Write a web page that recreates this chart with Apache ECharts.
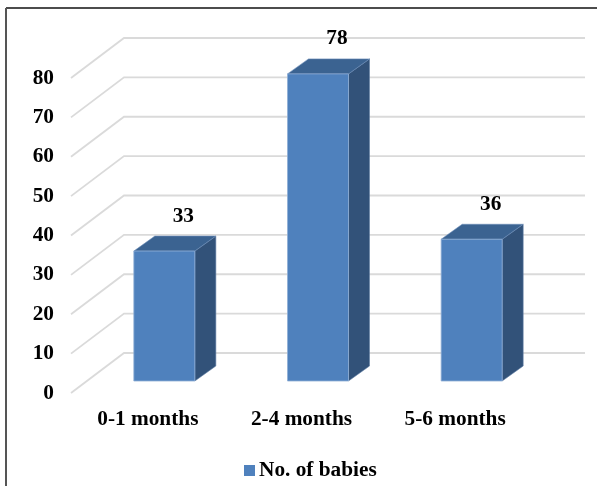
<!DOCTYPE html>
<html><head><meta charset="utf-8">
<style>html,body{margin:0;padding:0;background:#fff}#c{width:597px;height:486px}</style>
<script src="https://cdn.jsdelivr.net/npm/echarts@6/dist/echarts.min.js"></script>
</head><body><div id="c"></div>
<script>
const categories = ['0-1 months', '2-4 months', '5-6 months'];
const babies = [33, 78, 36];
const yTicks = [0, 10, 20, 30, 40, 50, 60, 70, 80];
const seriesName = 'No. of babies';

const FONT = '"Liberation Serif", serif';
const WALL = [53, -40];      // depth of the chart box
const BAR_SHIFT = [16.5, -12]; // where bars stand on the floor
const BAR_DEPTH = [21, -15];
const BAR_W = 61;

const chart = echarts.init(document.getElementById('c'), null, {renderer: 'canvas'});
chart.setOption({
  animation: false,
  backgroundColor: '#fff',
  graphic: [
    {type: 'line', silent: true, z: 0, shape: {x1: 6, y1: 8, x2: 597, y2: 8}, style: {stroke: '#111', lineWidth: 1.5}},
    {type: 'line', silent: true, z: 0, shape: {x1: 6, y1: 8, x2: 6, y2: 486}, style: {stroke: '#555', lineWidth: 2}}
  ],
  legend: {
    data: [seriesName], left: 239, top: 455, icon: 'rect', itemWidth: 11, itemHeight: 11, itemGap: 4,
    selectedMode: false,
    textStyle: {fontFamily: FONT, fontWeight: 'bold', fontSize: 21.3, color: '#000', padding: [0, 0, 0, -1]}
  },
  grid: {left: 71, top: 78, width: 461, height: 315, containLabel: false},
  xAxis: {
    type: 'category', data: categories,
    axisLine: {show: false}, axisTick: {show: false}, splitLine: {show: false},
    axisLabel: {fontFamily: FONT, fontWeight: 'bold', fontSize: 21.3, color: '#000', margin: 16}
  },
  yAxis: {
    type: 'value', min: 0, max: 80, interval: 10,
    axisLine: {show: false}, axisTick: {show: false}, splitLine: {show: false},
    axisLabel: {fontFamily: FONT, fontWeight: 'bold', fontSize: 21.3, color: '#000', margin: 17, padding: [4, 0, 0, 0]}
  },
  series: [
    {
      type: 'custom', name: 'grid', silent: true, clip: false, z: 1,
      data: yTicks.map(t => [0, t]),
      encode: {x: 0, y: 1},
      renderItem(params, api) {
        const y = api.coord([0, api.value(1)])[1];
        const cs = params.coordSys;
        const x0 = cs.x, x1 = cs.x + cs.width;
        const style = {stroke: '#DADADA', lineWidth: 1.8, fill: 'none'};
        return {type: 'polyline', shape: {points: [[x0, y], [x0 + WALL[0], y + WALL[1]], [x1 + WALL[0], y + WALL[1]]]}, style};
      }
    },
    {
      type: 'custom', name: seriesName, silent: true, clip: false, z: 2,
      itemStyle: {color: '#4F81BD'},
      data: babies.map((v, i) => [i, v]),
      encode: {x: 0, y: 1},
      renderItem(params, api) {
        const top = api.coord([api.value(0), api.value(1)]);
        const base = api.coord([api.value(0), 0]);
        const l = top[0] + BAR_SHIFT[0] - BAR_W / 2, r = l + BAR_W;
        const t = top[1] + BAR_SHIFT[1], b = base[1] + BAR_SHIFT[1];
        const dx = BAR_DEPTH[0], dy = BAR_DEPTH[1];
        return {type: 'group', children: [
          {type: 'polygon', shape: {points: [[r, t], [r + dx, t + dy], [r + dx, b + dy], [r, b]]},
            style: {fill: '#325279', stroke: '#5E7CA3', lineWidth: 0.6}},
          {type: 'polygon', shape: {points: [[l, t], [l + dx, t + dy], [r + dx, t + dy], [r, t]]},
            style: {fill: '#3B6391', stroke: '#6C8DB8', lineWidth: 0.6}},
          {type: 'rect', shape: {x: l, y: t, width: BAR_W, height: b - t},
            style: {fill: '#4F81BD', stroke: '#8FAFD6', lineWidth: 0.8}},
          {type: 'text', style: {
            x: l + BAR_W / 2 + 19, y: t + dy - 20,
            text: String(api.value(1)), align: 'center', verticalAlign: 'middle',
            font: 'bold 21.3px ' + FONT, fill: '#000'}}
        ]};
      }
    }
  ]
});
</script></body></html>
